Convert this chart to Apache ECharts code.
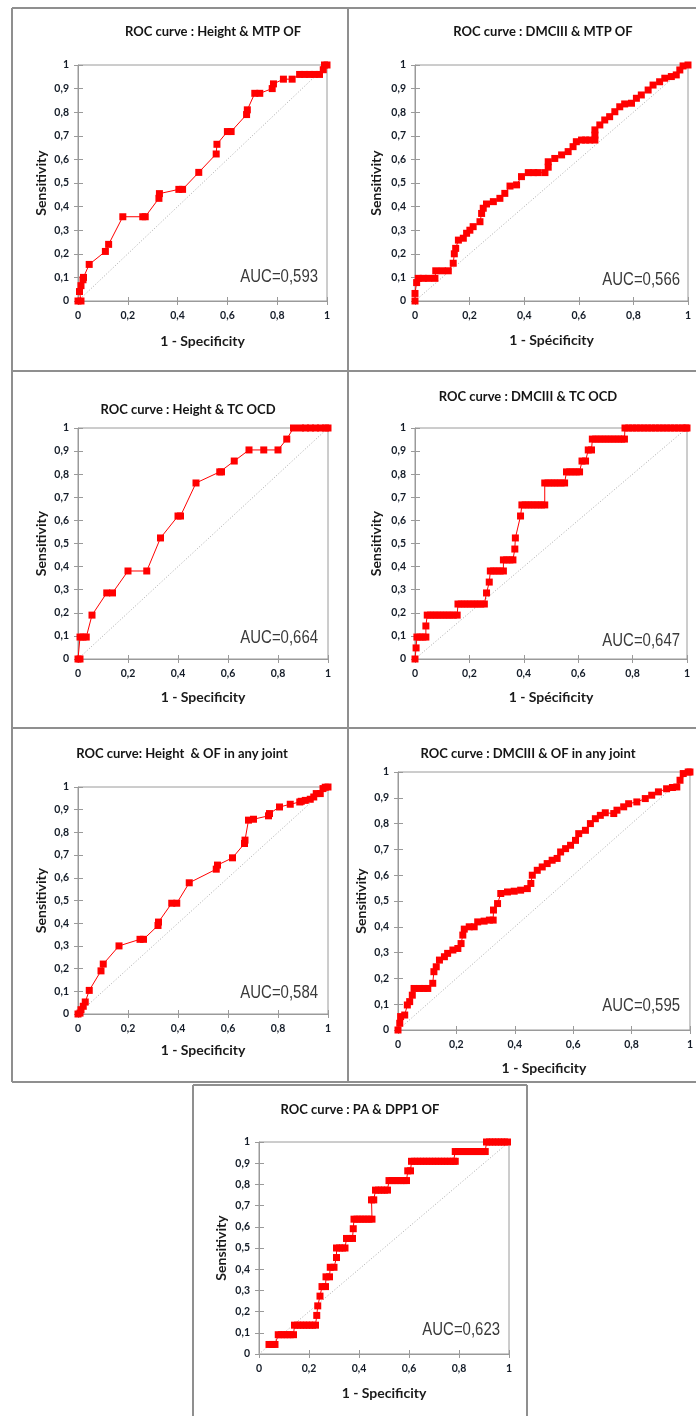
<!DOCTYPE html>
<html><head><meta charset="utf-8">
<script src="https://cdn.jsdelivr.net/npm/echarts@6/dist/echarts.min.js"></script>
<style>html,body{margin:0;padding:0;background:#fff}#c{width:696px;height:1416px}</style>
</head><body><div id="c"></div>
<script>
// ---------- data ----------
const TITLES = [
  'ROC curve : Height & MTP OF',
  'ROC curve : DMCIII & MTP OF',
  'ROC curve : Height & TC OCD',
  'ROC curve : DMCIII & TC OCD',
  'ROC curve: Height  & OF in any joint',
  'ROC curve : DMCIII & OF in any joint',
  'ROC curve : PA & DPP1 OF'
];
const X_NAMES = ['1 - Specificity','1 - Spécificity','1 - Specificity','1 - Spécificity','1 - Specificity','1 - Specificity','1 - Specificity'];
const Y_NAME = 'Sensitivity';
const AUC_TEXT = ['AUC=0,593','AUC=0,566','AUC=0,664','AUC=0,647','AUC=0,584','AUC=0,595','AUC=0,623'];
const Y_TICK_TEXT = ['0','0,1','0,2','0,3','0,4','0,5','0,6','0,7','0,8','0,9','1'];
const X_TICK_TEXT = ['0','','0,2','','0,4','','0,6','','0,8','','1'];
const DIAG = [[0,0],[1,1]];

const P1 = [[0,0],[0.012,0],[0.006,0.04],[0.012,0.065],[0.02,0.09],[0.022,0.1],[0.045,0.155],[0.11,0.21],[0.123,0.24],[0.18,0.357],[0.26,0.357],[0.27,0.357],[0.325,0.435],[0.327,0.455],[0.405,0.473],[0.42,0.473],[0.485,0.545],[0.555,0.623],[0.558,0.664],[0.6,0.718],[0.615,0.718],[0.677,0.79],[0.68,0.81],[0.71,0.88],[0.73,0.88],[0.78,0.9],[0.785,0.92],[0.825,0.94],[0.86,0.94],[0.89,0.96],[0.91,0.96],[0.93,0.96],[0.95,0.96],[0.97,0.96],[0.985,0.98],[0.99,1],[1,1]];

const P2 = [[0,0],[0,0.032],[0.006,0.078],[0.012,0.096],[0.03,0.096],[0.05,0.096],[0.073,0.096],[0.076,0.128],[0.1,0.128],[0.122,0.128],[0.14,0.16],[0.144,0.2],[0.149,0.223],[0.159,0.258],[0.177,0.266],[0.189,0.287],[0.201,0.3],[0.213,0.315],[0.238,0.336],[0.244,0.371],[0.25,0.393],[0.262,0.411],[0.287,0.421],[0.311,0.435],[0.329,0.456],[0.348,0.487],[0.372,0.492],[0.39,0.527],[0.415,0.544],[0.435,0.544],[0.451,0.544],[0.476,0.544],[0.488,0.567],[0.488,0.59],[0.512,0.604],[0.537,0.619],[0.561,0.633],[0.579,0.654],[0.591,0.675],[0.61,0.682],[0.625,0.682],[0.64,0.682],[0.659,0.682],[0.659,0.703],[0.659,0.725],[0.677,0.746],[0.695,0.767],[0.713,0.781],[0.732,0.802],[0.75,0.823],[0.768,0.835],[0.793,0.838],[0.811,0.859],[0.829,0.873],[0.854,0.894],[0.872,0.915],[0.896,0.929],[0.915,0.944],[0.939,0.951],[0.957,0.958],[0.97,0.979],[0.982,0.996],[1,1]];

const P3 = [[0,0],[0.008,0],[0.008,0.095],[0.02,0.095],[0.033,0.095],[0.056,0.19],[0.115,0.286],[0.138,0.286],[0.2,0.381],[0.275,0.381],[0.33,0.524],[0.4,0.619],[0.41,0.619],[0.472,0.762],[0.567,0.81],[0.574,0.81],[0.625,0.857],[0.684,0.905],[0.743,0.905],[0.8,0.905],[0.835,0.952],[0.862,1],[0.89,1],[0.91,1],[0.93,1],[0.95,1],[0.97,1],[0.99,1],[1,1]];

const P4 = [[0,0],[0.004,0.048],[0.007,0.095],[0.018,0.095],[0.029,0.095],[0.04,0.095],[0.04,0.143],[0.045,0.19],[0.057,0.19],[0.069,0.19],[0.081,0.19],[0.093,0.19],[0.105,0.19],[0.117,0.19],[0.129,0.19],[0.141,0.19],[0.155,0.19],[0.158,0.238],[0.17,0.238],[0.182,0.238],[0.194,0.238],[0.206,0.238],[0.218,0.238],[0.23,0.238],[0.242,0.238],[0.255,0.238],[0.263,0.286],[0.273,0.333],[0.277,0.381],[0.289,0.381],[0.301,0.381],[0.313,0.381],[0.325,0.381],[0.325,0.429],[0.337,0.429],[0.349,0.429],[0.36,0.429],[0.367,0.476],[0.369,0.524],[0.388,0.619],[0.393,0.667],[0.405,0.667],[0.417,0.667],[0.429,0.667],[0.441,0.667],[0.453,0.667],[0.465,0.667],[0.477,0.667],[0.477,0.762],[0.489,0.762],[0.501,0.762],[0.513,0.762],[0.525,0.762],[0.537,0.762],[0.55,0.762],[0.557,0.81],[0.569,0.81],[0.581,0.81],[0.593,0.81],[0.605,0.81],[0.614,0.857],[0.627,0.857],[0.637,0.905],[0.649,0.905],[0.652,0.952],[0.664,0.952],[0.676,0.952],[0.688,0.952],[0.7,0.952],[0.712,0.952],[0.724,0.952],[0.736,0.952],[0.748,0.952],[0.76,0.952],[0.77,0.952],[0.772,1],[0.786,1],[0.8,1],[0.814,1],[0.828,1],[0.842,1],[0.856,1],[0.87,1],[0.884,1],[0.898,1],[0.912,1],[0.926,1],[0.94,1],[0.954,1],[0.968,1],[0.982,1],[0.995,1],[1,1]];

const P5 = [[0,0],[0.008,0.004],[0.012,0.019],[0.021,0.034],[0.029,0.053],[0.045,0.104],[0.092,0.19],[0.101,0.22],[0.164,0.3],[0.248,0.329],[0.262,0.329],[0.32,0.39],[0.322,0.405],[0.375,0.488],[0.395,0.488],[0.445,0.578],[0.553,0.638],[0.558,0.656],[0.618,0.688],[0.666,0.751],[0.668,0.766],[0.682,0.854],[0.702,0.858],[0.762,0.873],[0.766,0.883],[0.806,0.912],[0.849,0.924],[0.887,0.934],[0.893,0.937],[0.909,0.941],[0.929,0.946],[0.943,0.956],[0.953,0.971],[0.969,0.971],[0.98,0.993],[0.989,0.999],[1,1]];

const P6 = [[0,0],[0.006,0.026],[0.009,0.052],[0.023,0.058],[0.032,0.097],[0.04,0.11],[0.049,0.135],[0.055,0.161],[0.074,0.161],[0.088,0.161],[0.102,0.161],[0.119,0.181],[0.123,0.226],[0.131,0.245],[0.142,0.271],[0.159,0.284],[0.17,0.297],[0.188,0.31],[0.205,0.316],[0.216,0.335],[0.222,0.368],[0.227,0.391],[0.244,0.4],[0.261,0.4],[0.273,0.419],[0.295,0.422],[0.313,0.426],[0.326,0.426],[0.327,0.465],[0.341,0.49],[0.352,0.529],[0.375,0.535],[0.398,0.538],[0.42,0.542],[0.443,0.548],[0.455,0.568],[0.46,0.6],[0.477,0.619],[0.494,0.632],[0.511,0.645],[0.528,0.658],[0.545,0.665],[0.557,0.69],[0.574,0.703],[0.591,0.716],[0.608,0.735],[0.619,0.761],[0.642,0.774],[0.659,0.8],[0.676,0.819],[0.693,0.832],[0.71,0.842],[0.739,0.839],[0.75,0.852],[0.773,0.865],[0.79,0.877],[0.818,0.884],[0.847,0.897],[0.869,0.91],[0.892,0.923],[0.92,0.935],[0.94,0.94],[0.955,0.942],[0.966,0.968],[0.977,0.994],[0.994,1],[1,1]];

const P7 = [[0.04,0.045],[0.052,0.045],[0.064,0.045],[0.077,0.091],[0.089,0.091],[0.101,0.091],[0.113,0.091],[0.125,0.091],[0.138,0.091],[0.142,0.136],[0.154,0.136],[0.166,0.136],[0.178,0.136],[0.19,0.136],[0.202,0.136],[0.214,0.136],[0.226,0.136],[0.231,0.182],[0.235,0.227],[0.244,0.273],[0.252,0.318],[0.266,0.318],[0.268,0.364],[0.282,0.364],[0.285,0.409],[0.3,0.409],[0.31,0.455],[0.31,0.5],[0.322,0.5],[0.334,0.5],[0.344,0.5],[0.35,0.545],[0.362,0.545],[0.374,0.545],[0.377,0.591],[0.38,0.636],[0.392,0.636],[0.404,0.636],[0.416,0.636],[0.428,0.636],[0.44,0.636],[0.452,0.636],[0.45,0.727],[0.459,0.727],[0.466,0.773],[0.478,0.773],[0.49,0.773],[0.502,0.773],[0.514,0.773],[0.52,0.818],[0.532,0.818],[0.544,0.818],[0.556,0.818],[0.568,0.818],[0.58,0.818],[0.59,0.818],[0.595,0.864],[0.606,0.864],[0.61,0.909],[0.622,0.909],[0.634,0.909],[0.646,0.909],[0.658,0.909],[0.67,0.909],[0.682,0.909],[0.694,0.909],[0.706,0.909],[0.718,0.909],[0.73,0.909],[0.742,0.909],[0.754,0.909],[0.766,0.909],[0.778,0.909],[0.785,0.909],[0.785,0.955],[0.797,0.955],[0.809,0.955],[0.821,0.955],[0.833,0.955],[0.845,0.955],[0.857,0.955],[0.869,0.955],[0.881,0.955],[0.893,0.955],[0.905,0.955],[0.91,1],[0.922,1],[0.934,1],[0.946,1],[0.958,1],[0.97,1],[0.982,1],[0.994,1]];

const SERIES = [P1,P2,P3,P4,P5,P6,P7];

// ---------- layout ----------
const LAYOUT = [
  {grid:[78,65,249,236],  title:[213,32],   auc:[318,277],  yGap:30, xGap:33},
  {grid:[415,65,273,236], title:[543,32],   auc:[680,280],  yGap:32, xGap:32},
  {grid:[78,428,250,231], title:[188,410],  auc:[318,638],  yGap:30, xGap:31},
  {grid:[415,428,272,231],title:[528,397],  auc:[680,641],  yGap:32, xGap:31},
  {grid:[78,787,250,227], title:[182,754],  auc:[318,993],  yGap:30, xGap:29},
  {grid:[398,772,293,258],title:[528,754],  auc:[680,1006], yGap:30, xGap:31},
  {grid:[259,1142,250,212],title:[360,1110],auc:[500,1330], yGap:31, xGap:32}
];
const FONT = 'Lato, "Open Sans", sans-serif';
const AXIS_COLOR = '#9a9a9a';
const LABEL_COLOR = '#141c28';
const RED = '#ff0000';

const grids = [], xAxes = [], yAxes = [], series = [], graphic = [];
const yFmt = v => Y_TICK_TEXT[Math.round(v * 10)];
const xFmt = v => X_TICK_TEXT[Math.round(v * 10)];

LAYOUT.forEach((L, i) => {
  const [l, t, w, h] = L.grid;
  grids.push({left:l, top:t, width:w, height:h, show:true, borderColor:AXIS_COLOR, borderWidth:1, backgroundColor:'transparent'});
  xAxes.push({gridIndex:i, type:'value', min:0, max:1, interval:0.2, position:'bottom',
    axisLine:{show:true, onZero:false, lineStyle:{color:AXIS_COLOR, width:1}},
    axisTick:{show:true, length:4, lineStyle:{color:AXIS_COLOR}},
    axisLabel:{margin:9, fontFamily:FONT, fontWeight:'bold', fontSize:10.5, color:LABEL_COLOR, formatter:xFmt},
    splitLine:{show:false},
    name:X_NAMES[i], nameLocation:'middle', nameGap:L.xGap,
    nameTextStyle:{fontFamily:FONT, fontWeight:'bold', fontSize:14, color:'#1a1a1a'}});
  xAxes.push({gridIndex:i, type:'value', min:0, max:1, interval:0.2, position:'bottom',
    axisLine:{show:false}, axisTick:{show:true, inside:true, length:4, lineStyle:{color:AXIS_COLOR}},
    axisLabel:{show:false}, splitLine:{show:false}});
  yAxes.push({gridIndex:i, type:'value', min:0, max:1, interval:0.1, position:'left',
    axisLine:{show:true, onZero:false, lineStyle:{color:AXIS_COLOR, width:1}},
    axisTick:{show:true, length:4, lineStyle:{color:AXIS_COLOR}},
    axisLabel:{margin:9, fontFamily:FONT, fontWeight:'bold', fontSize:10.5, color:LABEL_COLOR, formatter:yFmt},
    splitLine:{show:false},
    name:Y_NAME, nameLocation:'middle', nameGap:L.yGap, nameRotate:90,
    nameTextStyle:{fontFamily:FONT, fontWeight:'bold', fontSize:14, color:'#1a1a1a'}});
  yAxes.push({gridIndex:i, type:'value', min:0, max:1, interval:0.1, position:'left',
    axisLine:{show:false}, axisTick:{show:true, inside:true, length:5, lineStyle:{color:AXIS_COLOR}},
    axisLabel:{show:false}, splitLine:{show:false}});

  series.push({type:'line', xAxisIndex:2*i, yAxisIndex:2*i, data:DIAG, symbol:'none', silent:true,
    lineStyle:{color:'#a8a8a8', width:1, type:[1,2]}, z:2, animation:false});
  series.push({type:'line', xAxisIndex:2*i, yAxisIndex:2*i, data:SERIES[i], symbol:'rect', symbolSize:7,
    showAllSymbol:true, lineStyle:{color:RED, width:1}, itemStyle:{color:RED}, z:3, animation:false});

  graphic.push({type:'text', x:L.title[0], y:L.title[1], silent:true,
    style:{text:TITLES[i], fill:'#151515', font:'bold 13px ' + FONT, align:'center', verticalAlign:'middle'}});
  graphic.push({type:'text', x:L.auc[0], y:L.auc[1], scaleX:0.83, silent:true,
    style:{text:AUC_TEXT[i], fill:'#3a3a3a', font:'18px "Liberation Sans", Arial, sans-serif', align:'right', verticalAlign:'middle'}});
});

// panel frames
const FR = {stroke:'#8f8f8f', lineWidth:2};
const lines = [
  [12,8,696,8],[12,371,696,371],[12,728,696,728],[12,1082,696,1082],
  [12,8,12,1082],[348,8,348,1082],
  [193,1085,527,1085],[193,1085,193,1416],[527,1085,527,1416]
];
lines.forEach(([x1,y1,x2,y2]) => graphic.push({type:'line', silent:true, shape:{x1,y1,x2,y2}, style:FR, z:-1}));

const chart = echarts.init(document.getElementById('c'), null, {renderer:'canvas'});
chart.setOption({animation:false, grid:grids, xAxis:xAxes, yAxis:yAxes, series, graphic});
</script>
</body></html>
